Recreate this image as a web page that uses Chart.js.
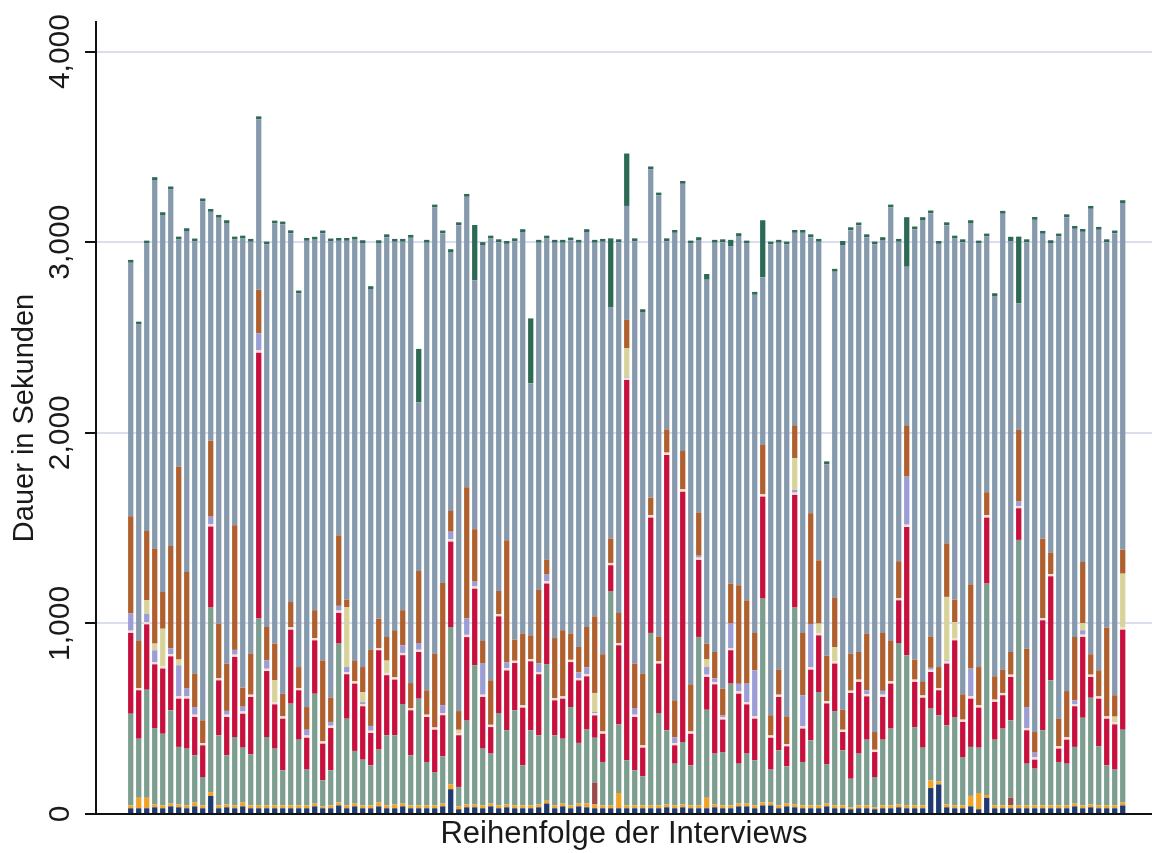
<!DOCTYPE html>
<html>
<head>
<meta charset="utf-8">
<script src="https://cdn.jsdelivr.net/npm/chart.js@4.4.1/dist/chart.umd.min.js"></script>
<style>
  html, body { margin: 0; padding: 0; background: #ffffff; }
  #wrap { width: 1152px; height: 853px; }
</style>
</head>
<body>
<div id="wrap"><canvas id="c" width="1152" height="853"></canvas></div>
<script>
// Interviews in order (index 0..124)
const interviews = Array.from({length: 125}, (_, i) => i);
const yTicks = [0, 1000, 2000, 3000, 4000];

// Segment durations in seconds, bottom to top
const navy = [30,30,30,35,30,40,35,30,40,30, 95,30,35,30,40,30,30,30,30,30, 30,30,30,40,30,30,45,30,40,30,
  30,40,30,30,40,30,30,30,30,40, 130,25,35,35,30,40,30,35,30,30, 30,35,55,30,40,30,40,35,30,30,
  30,30,30,30,30,30,30,35,30,35, 30,30,30,35,30,30,40,40,30,45, 45,30,40,35,30,30,30,40,30,30,
  25,30,30,25,30,30,35,30,30,30, 136,155,35,30,30,40,25,85,30,30, 30,30,30,30,30,30,30,30,40,30,
  35,30,30,30,45];
const orange = [15,55,55,15,15,15,15,15,20,15, 20,15,15,15,20,15,15,15,15,15, 15,15,15,15,10,15,15,15,15,15,
  15,20,15,20,15,15,15,15,15,15, 25,15,15,15,15,15,15,15,15,15, 15,15,15,15,15,15,15,20,20,15,
  15,80,15,15,15,15,15,15,15,15, 15,15,55,15,15,15,15,15,15,15, 15,15,15,15,15,15,15,15,15,15,
  10,15,15,10,15,15,15,15,15,15, 40,15,15,15,15,55,85,15,15,15, 15,15,15,15,15,15,15,15,15,15,
  15,15,15,15,15];
const maroon = [0,0,0,0,0,0,0,0,0,0, 0,0,0,0,0,0,0,0,0,0, 0,0,0,0,0,0,0,0,0,0,
  0,0,0,0,0,0,0,0,0,0, 0,0,0,0,0,0,0,0,0,0, 0,0,0,0,0,0,0,0,115,0,
  0,0,0,0,0,0,0,0,0,0, 0,0,0,0,0,0,0,0,0,0, 0,0,0,0,0,0,0,0,0,0,
  0,0,0,0,0,0,0,0,0,0, 0,0,0,0,0,0,0,0,0,0, 40,0,0,0,0,0,0,0,0,0,
  0,0,0,0,0];
const sage = [481,310,567,401,376,489,302,298,248,149, 968,368,258,359,288,268,980,359,298,184,
  534,345,188,576,137,184,834,455,276,240, 210,278,368,363,522,263,560,228,175,248,
  826,102,440,730,298,262,485,389,499,210, 394,363,715,368,340,516,318,388,235,228,
  1125,360,237,184,153,905,485,389,219,328, 210,884,462,267,280,639,209,262,237,1070,
  173,289,195,1033,228,342,595,207,495,289, 150,272,345,159,345,403,847,788,411,303,
  377,348,415,464,254,257,238,1109,345,403, 406,1393,219,193,394,656,228,219,297,460,
  560,310,210,188,382];
const crimson = [424,254,343,334,342,283,253,262,201,166, 425,288,201,420,178,301,1395,346,232,271,
  388,259,167,280,192,222,161,233,353,280, 170,521,315,292,256,236,245,236,222,215,
  448,271,438,402,271,139,507,314,248,303, 362,320,424,183,210,236,328,279,117,148,
  135,415,1995,280,150,605,259,1445,96,1313, 166,404,172,363,170,175,367,258,218,535,
  167,280,105,591,175,370,297,318,249,96, 450,376,227,131,224,236,224,673,237,262,
  192,131,324,402,184,253,210,346,198,175, 228,166,175,47,577,546,70,126,213,424,
  109,250,245,237,525];
const pale = [12,12,12,12,12,12,12,12,12,12, 12,12,12,12,12,12,12,12,12,12, 12,12,12,12,12,12,12,12,12,12,
  12,12,12,12,12,12,12,12,12,12, 12,12,12,12,12,12,12,12,12,12, 12,12,12,12,12,12,12,12,12,12,
  12,12,12,12,12,12,12,12,12,12, 12,12,12,12,12,12,12,12,12,12, 12,12,12,12,12,12,12,12,12,12,
  12,12,12,12,12,12,12,12,12,12, 12,12,12,12,12,12,12,12,12,12, 12,12,12,12,12,12,12,12,12,12,
  12,12,12,12,12];
const lavender = [90,0,44,62,0,30,163,41,40,0, 40,0,20,25,25,0,90,44,0,0, 0,0,30,0,0,20,25,26,0,10,
  25,0,0,0,40,0,35,0,0,40, 40,0,85,25,163,0,0,30,0,0, 0,45,35,0,0,0,30,35,6,0,
  0,0,5,35,0,0,0,0,30,0, 0,10,40,20,10,128,40,97,242,0, 0,0,0,14,163,228,0,0,0,0,
  0,0,20,0,20,0,0,252,0,0, 10,0,5,0,0,146,0,0,0,0, 0,23,110,25,0,0,0,0,19,23,
  0,0,0,0,0];
const khaki = [0,0,70,35,197,0,30,0,0,0, 0,0,0,0,0,0,0,0,114,0, 0,0,0,0,0,0,0,315,0,52,
  0,0,65,0,0,0,0,0,0,0, 0,17,0,0,0,0,0,0,0,0, 0,0,0,0,0,0,0,0,100,0,
  0,0,149,0,0,0,0,0,0,0, 0,0,40,0,0,0,0,0,0,0, 0,0,0,166,0,0,50,0,75,0,
  0,0,0,0,0,0,0,0,0,0, 0,0,333,84,0,0,0,0,0,0, 0,0,0,0,0,0,0,0,0,38,
  0,0,0,29,282];
const brown = [510,247,364,498,193,537,1012,612,175,119, 399,286,248,654,100,215,228,175,193,119,
  133,110,119,146,425,127,370,39,107,132, 400,154,124,247,184,131,378,128,387,642,
  109,98,689,275,119,233,121,641,111,376, 124,387,78,315,347,137,133,212,402,405,
  129,158,149,233,376,93,131,122,194,202, 247,226,83,138,141,210,517,437,196,259,
  106,131,145,170,327,581,332,238,259,105, 195,145,297,93,304,212,193,266,105,71,
  165,110,281,118,133,442,201,121,122,122, 119,376,307,108,417,112,145,243,333,320,
  107,137,466,112,126];
const steel = [1330,1660,1508,1934,1977,1871,1192,1788,2268,2723, 1200,2129,2311,1499,2356,2161,895,2007,2204,2462,
  1935,1960,2446,1944,2240,2394,1545,1882,2210,2224, 1892,1970,2097,2038,1933,2336,885,2348,2341,1834,
  1358,2549,1524,1306,2077,2318,1830,1555,2090,2107, 1323,1820,1685,2074,2033,2063,2121,2072,1960,2164,
  1214,1945,598,2216,1897,1722,2313,987,2453,1401, 2313,1430,1909,2147,2342,1768,1832,1872,1774,879,
  2470,2240,2476,1013,2099,1448,1671,1005,1710,2438, 2221,2238,2080,2558,2061,2274,1676,835,2257,2423,
  2219,2220,1669,1894,2372,1895,2222,1342,1995,2392, 2156,664,2132,2687,1599,1624,2530,2486,2141,1732,
  2337,2311,2022,2423,1818];
const darkGreen = [15,15,15,15,15,15,15,15,15,15, 15,15,15,15,15,15,15,15,15,15, 15,15,15,15,15,15,15,15,15,15,
  15,15,15,15,15,15,280,15,15,15, 15,15,15,290,15,15,15,15,15,15, 340,15,15,15,15,15,15,15,15,15,
  360,15,275,15,15,15,15,15,15,15, 15,15,30,15,15,35,15,15,15,300, 15,15,15,15,15,15,15,15,15,21,
  15,15,15,15,15,15,15,260,15,15, 15,15,15,15,15,15,15,15,15,15, 22,350,15,15,15,15,15,15,15,15,
  15,15,15,15,15];

const series = [
  {name: 'navy', data: navy, color: '#1e3a6e'},
  {name: 'orange', data: orange, color: '#f0a326'},
  {name: 'maroon', data: maroon, color: '#9a4a4a'},
  {name: 'sage', data: sage, color: '#7d9e8f'},
  {name: 'crimson', data: crimson, color: '#c8103e'},
  {name: 'pale', data: pale, color: '#f4dcd6'},
  {name: 'lavender', data: lavender, color: '#9d9dd6'},
  {name: 'khaki', data: khaki, color: '#d8d39a'},
  {name: 'brown', data: brown, color: '#b0602e'},
  {name: 'steel', data: steel, color: '#8699ad'},
  {name: 'darkGreen', data: darkGreen, color: '#2c6a55'}
];

const FONT = "'Liberation Sans', Arial, Helvetica, sans-serif";
const Y_MAX = 4155;

const rotatedYLabels = {
  id: 'rotatedYLabels',
  afterDraw(chart) {
    const s = chart.scales.y;
    const ctx = chart.ctx;
    ctx.save();
    ctx.fillStyle = '#1a1a1a';
    ctx.font = '30px ' + FONT;
    ctx.textAlign = 'center';
    ctx.textBaseline = 'middle';
    yTicks.forEach(v => {
      const y = s.getPixelForValue(v);
      ctx.save();
      ctx.translate(61, y);
      ctx.rotate(-Math.PI / 2);
      ctx.fillText(v.toLocaleString('en-US'), 0, 0);
      ctx.restore();
    });
    ctx.restore();
  }
};

new Chart(document.getElementById('c'), {
  type: 'bar',
  data: {
    datasets: series.map(s => ({
      label: s.name,
      data: s.data.map((v, i) => ({x: interviews[i], y: v})),
      backgroundColor: s.color,
      borderWidth: 0,
      barPercentage: 0.66,
      categoryPercentage: 1.0
    }))
  },
  options: {
    responsive: false,
    animation: false,
    devicePixelRatio: 1,
    layout: {padding: {top: 22, right: 0, left: 0, bottom: 0}},
    plugins: {legend: {display: false}, tooltip: {enabled: false}},
    scales: {
      x: {
        type: 'linear',
        stacked: true,
        offset: false,
        bounds: 'data',
        min: -4.34,
        max: 127.66,
        ticks: {display: false},
        grid: {display: false},
        border: {display: true, color: '#111', width: 2},
        title: {display: true, text: 'Reihenfolge der Interviews', color: '#1a1a1a',
                font: {family: FONT, size: 31}, padding: {top: 0, bottom: 0}},
        afterFit(scale) { scale.height = 39; }
      },
      y: {
        stacked: true,
        bounds: 'data',
        min: 0,
        max: Y_MAX,
        ticks: {color: 'rgba(0,0,0,0)', font: {size: 1}},
        afterBuildTicks(scale) {
          scale.ticks = yTicks.map(v => ({value: v}));
          scale.min = 0;
          scale.max = Y_MAX;
        },
        grid: {color: '#dadded', lineWidth: 2, tickColor: '#111', tickLength: 11, tickWidth: 2, drawTicks: true},
        border: {display: true, color: '#111', width: 2},
        title: {display: true, text: 'Dauer in Sekunden', color: '#1a1a1a',
                font: {family: FONT, size: 29}, padding: {top: 8, bottom: 0}},
        afterFit(scale) { scale.width = 96; }
      }
    }
  },
  plugins: [rotatedYLabels]
});
</script>
</body>
</html>
